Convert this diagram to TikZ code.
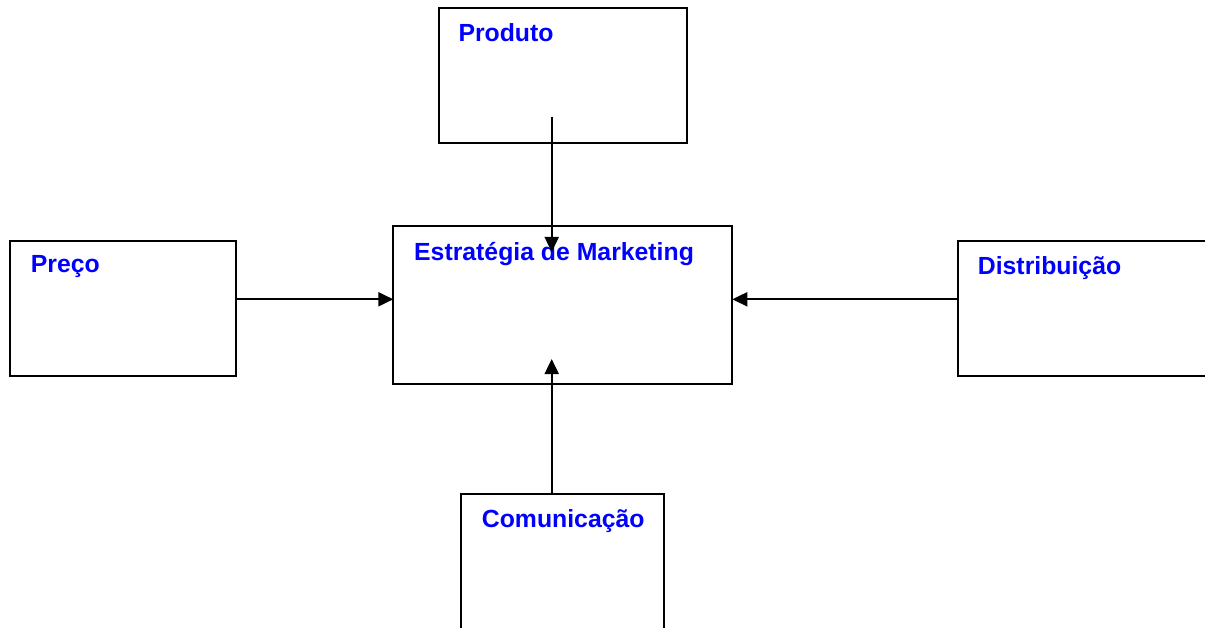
\documentclass[tikz,border=0pt]{standalone}
\usepackage{fontspec}
\setmainfont{Liberation Sans}
\usetikzlibrary{arrows.meta,calc}
\definecolor{labelblue}{RGB}{0,0,255}
\begin{document}
\begin{tikzpicture}[x=1pt,y=-1pt,
  box/.style={draw=black,line width=2pt,fill=white,rectangle,inner sep=0pt,outer sep=0pt},
  title/.style={anchor=base west,inner sep=0pt,text=labelblue,font=\bfseries\fontsize{24.8}{28}\selectfont},
  arr/.style={draw=black,line width=2pt,-{Triangle[length=15pt,width=14pt]}}]
\useasboundingbox (0,0) rectangle (1205,628);
\clip (0,0) rectangle (1205,628);
\fill[white] (0,0) rectangle (1205,628);

% boxes
\node[box,minimum width=248.2pt,minimum height=135.2pt] (prod) at (562.6,75.3) {};
\node[box,minimum width=339pt,minimum height=158pt] (strat) at (562.8,305) {};
\node[box,minimum width=226pt,minimum height=135pt] (preco) at (123,308.2) {};
\node[box,minimum width=272pt,minimum height=135pt] (dist) at (1093.85,308.2) {};
\node[box,minimum width=203pt,minimum height=166pt] (com) at (562.5,577) {};

% titles
\node[title] (tprod) at (458.3,42) {Produto};
\node[title] (tstrat) at (414,261) {Estratégia de Marketing};
\node[title] (tpreco) at (30.7,273) {Preço};
\node[title] (tdist) at (977.7,274.5) {Distribuição};
\node[title] (tcom) at (481.7,527) {Comunicação};

% guide coordinates for the connectors
\coordinate (hy) at (0,299.3);
\coordinate (vx) at (551.7,0);

% connectors
\draw[arr] (preco.east|-hy) -- (strat.west|-hy);
\draw[arr] (dist.west|-hy) -- (strat.east|-hy);
\draw[arr] ($(vx|-prod.south)+(0,-26)$) -- ($(vx|-strat.north)+(0,26)$);
\draw[arr] (vx|-com.north) -- ($(vx|-strat.south)+(0,-25)$);
\end{tikzpicture}
\end{document}
